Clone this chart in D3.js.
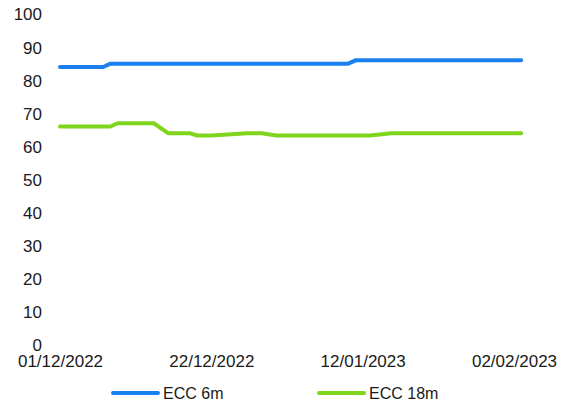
<!DOCTYPE html>
<html>
<head>
<meta charset="utf-8">
<script src="https://cdn.jsdelivr.net/npm/d3@7"></script>
<style>
  html, body { margin: 0; padding: 0; background: #fff; }
  svg { display: block; }
  text { font-family: "Liberation Sans", Arial, sans-serif; fill: #1a1a1a; }
</style>
</head>
<body>
<svg id="chart" width="566" height="403"></svg>
<script>
// ---- Data ----
const seriesNames = ["ECC 6m", "ECC 18m"];
const seriesColors = ["#1a80f0", "#7fd41c"];

const ecc6mDates = ["01/12/2022", "07/12/2022", "08/12/2022", "10/01/2023", "11/01/2023", "03/02/2023"];
const ecc6mValues = [84, 84, 85, 85, 86, 86];

const ecc18mDates = ["01/12/2022", "08/12/2022", "09/12/2022", "14/12/2022", "16/12/2022", "19/12/2022",
                     "20/12/2022", "22/12/2022", "27/12/2022", "29/12/2022", "31/12/2022", "13/01/2023",
                     "16/01/2023", "03/02/2023"];
const ecc18mValues = [66, 66, 67, 67, 64, 64, 63.3, 63.3, 64, 64, 63.3, 63.3, 64, 64];

const xTickLabels = ["01/12/2022", "22/12/2022", "12/01/2023", "02/02/2023"];
const yTickValues = [0, 10, 20, 30, 40, 50, 60, 70, 80, 90, 100];

// ---- Chart ----
const parse = d3.timeParse("%d/%m/%Y");
const svg = d3.select("#chart");

const x = d3.scaleTime()
  .domain([parse("01/12/2022"), parse("02/02/2023")])
  .range([60, 514]);
const y = d3.scaleLinear().domain([0, 100]).range([345, 14]);

// Y axis (labels only)
const yAxis = d3.axisLeft(y).tickValues(yTickValues).tickSize(0).tickPadding(0);
const gy = svg.append("g").attr("transform", "translate(42,0)").call(yAxis);
gy.select(".domain").remove();
gy.selectAll("text").attr("font-size", 17).attr("font-family", "Liberation Sans, Arial, sans-serif")
  .attr("fill", "#1a1a1a").attr("dy", "0.35em").attr("x", 0);

// X axis (labels only)
const xAxis = d3.axisBottom(x).tickValues(xTickLabels.map(parse))
  .tickFormat(d3.timeFormat("%d/%m/%Y")).tickSize(0).tickPadding(0);
const gx = svg.append("g").attr("transform", "translate(0,355)").call(xAxis);
gx.select(".domain").remove();
gx.selectAll("text").attr("font-size", 17).attr("font-family", "Liberation Sans, Arial, sans-serif")
  .attr("fill", "#1a1a1a").attr("dy", "0.71em").attr("y", 0);

// Lines
const line = d3.line().x(d => x(d.date)).y(d => y(d.value));
const series = [
  ecc6mDates.map((d, i) => ({ date: parse(d), value: ecc6mValues[i] })),
  ecc18mDates.map((d, i) => ({ date: parse(d), value: ecc18mValues[i] }))
];
series.forEach((s, i) => {
  svg.append("path").datum(s)
    .attr("d", line)
    .attr("fill", "none")
    .attr("stroke", seriesColors[i])
    .attr("stroke-width", 4)
    .attr("stroke-linejoin", "round")
    .attr("stroke-linecap", "round");
});

// Legend
const legendX = [113, 319];
seriesNames.forEach((name, i) => {
  const g = svg.append("g").attr("transform", `translate(${legendX[i]},393)`);
  g.append("line").attr("x1", 0).attr("x2", 45).attr("y1", 0).attr("y2", 0)
    .attr("stroke", seriesColors[i]).attr("stroke-width", 4).attr("stroke-linecap", "round");
  g.append("text").attr("x", 50).attr("y", 0).attr("dy", "0.35em")
    .attr("font-size", 16).text(name);
});
</script>
</body>
</html>
